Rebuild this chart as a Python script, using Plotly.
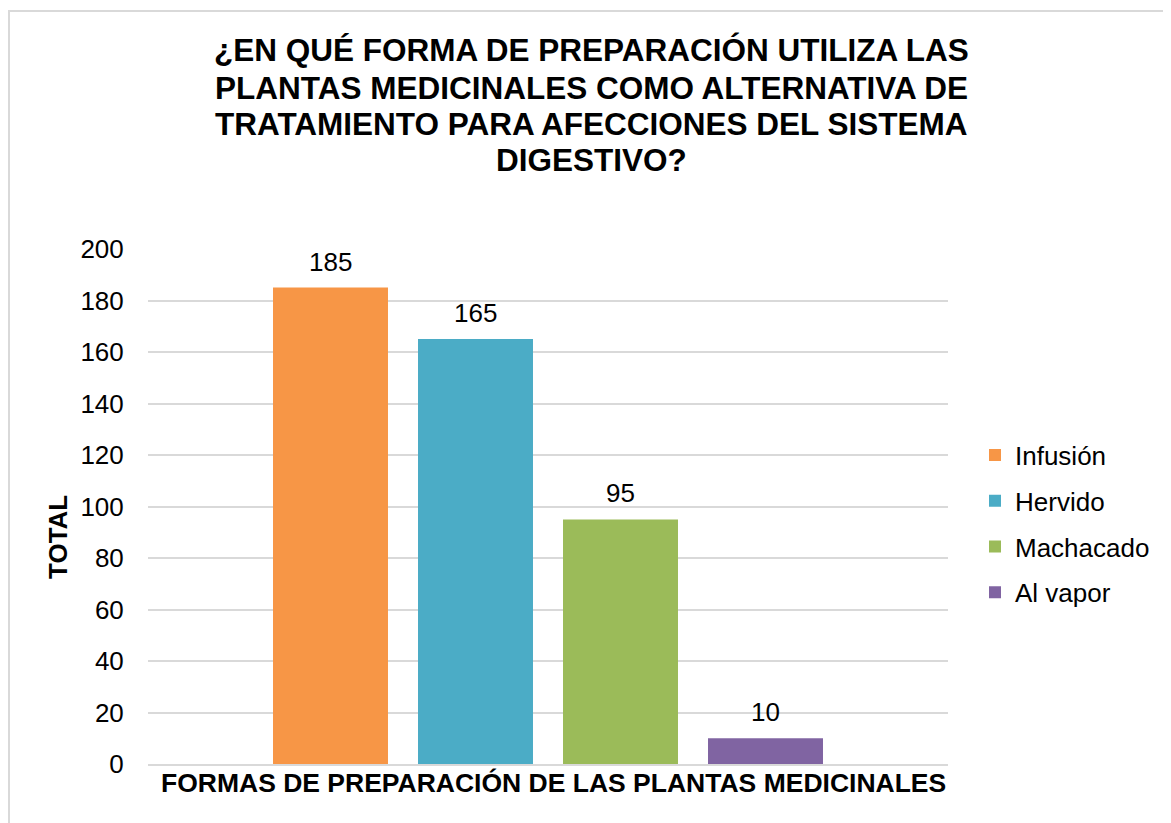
import plotly.graph_objects as go

categories = ["Infusión", "Hervido", "Machacado", "Al vapor"]
values = [185, 165, 95, 10]
colors = ["#F79646", "#4BACC6", "#9BBB59", "#8064A2"]
y_ticks = list(range(0, 201, 20))

title_lines = ["¿EN QUÉ FORMA DE PREPARACIÓN UTILIZA LAS",
               "PLANTAS MEDICINALES COMO ALTERNATIVA DE",
               "TRATAMIENTO PARA AFECCIONES DEL SISTEMA",
               "DIGESTIVO?"]
x_title = "FORMAS DE PREPARACIÓN DE LAS PLANTAS MEDICINALES"
y_title = "TOTAL"

W, H = 1171, 823
L, T = 140, 241
PW, PH = 800, 515
R, B = W - L - PW, H - T - PH
FONT = "Liberation Sans, Arial, sans-serif"

BARGAP = 0.275
GROUPGAP = 0.207


def px_x(px):
    return (px - L) / PW


def px_y(py):
    return 1 - (py - T) / PH


fig = go.Figure()
for c, v, col in zip(categories, values, colors):
    fig.add_trace(go.Bar(
        x=[0], y=[v], name=c, marker_color=col, marker_line_width=0,
        legendgroup=c, hoverinfo="name+y",
    ))

# value labels above bars
n = len(categories)
group_w = 1 - BARGAP
slot = group_w / n
for i, v in enumerate(values):
    xc = -group_w / 2 + (i + 0.5) * slot
    fig.add_annotation(x=xc, y=v, xref="x", yref="y", text=str(v),
                       showarrow=False, yanchor="bottom", yshift=9,
                       font=dict(size=26, color="#000000", family=FONT))

# title lines
for line, yc in zip(title_lines, [42, 80, 116, 152]):
    fig.add_annotation(x=px_x(583), y=px_y(yc), xref="paper", yref="paper",
                       text=f"<b>{line}</b>", showarrow=False,
                       xanchor="center", yanchor="middle",
                       font=dict(size=31.5, color="#000000", family=FONT))

# axis titles
fig.add_annotation(x=px_x(50), y=px_y(529), xref="paper", yref="paper",
                   text=f"<b>{y_title}</b>", textangle=-90, showarrow=False,
                   xanchor="center", yanchor="middle",
                   font=dict(size=26, color="#000000", family=FONT))
fig.add_annotation(x=px_x(545), y=px_y(775), xref="paper", yref="paper",
                   text=f"<b>{x_title}</b>", showarrow=False,
                   xanchor="center", yanchor="middle",
                   font=dict(size=26.5, color="#000000", family=FONT))

# outer frame (top/left visible)
fig.add_shape(type="rect", xref="paper", yref="paper",
              x0=px_x(1), x1=px_x(1200), y0=px_y(850), y1=px_y(3),
              line=dict(color="#d9d9d9", width=2), fillcolor="rgba(0,0,0,0)", layer="below")

fig.update_layout(
    width=W, height=H,
    margin=dict(l=L, r=R, t=T, b=B, autoexpand=False),
    paper_bgcolor="white", plot_bgcolor="white",
    font=dict(family=FONT, size=26, color="#000000"),
    barmode="group", bargap=BARGAP, bargroupgap=GROUPGAP,
    showlegend=True,
    legend=dict(x=px_x(967), xanchor="left", y=px_y(516), yanchor="middle",
                font=dict(size=26, color="#000000", family=FONT),
                itemwidth=30, tracegroupgap=9, traceorder="grouped",
                bgcolor="rgba(0,0,0,0)"),
    xaxis=dict(range=[-0.5, 0.5], showticklabels=False, showgrid=False, zeroline=False,
               showline=True, linecolor="#d9d9d9", linewidth=2, fixedrange=True),
    yaxis=dict(range=[0, 200], tickvals=y_ticks, showgrid=True, gridcolor="#d9d9d9",
               gridwidth=1.5, zeroline=False, showline=False,
               ticks="outside", ticklen=18, tickcolor="rgba(0,0,0,0)",
               tickfont=dict(size=26, color="#000000", family=FONT), fixedrange=True),
)

fig.write_html("out.html")
